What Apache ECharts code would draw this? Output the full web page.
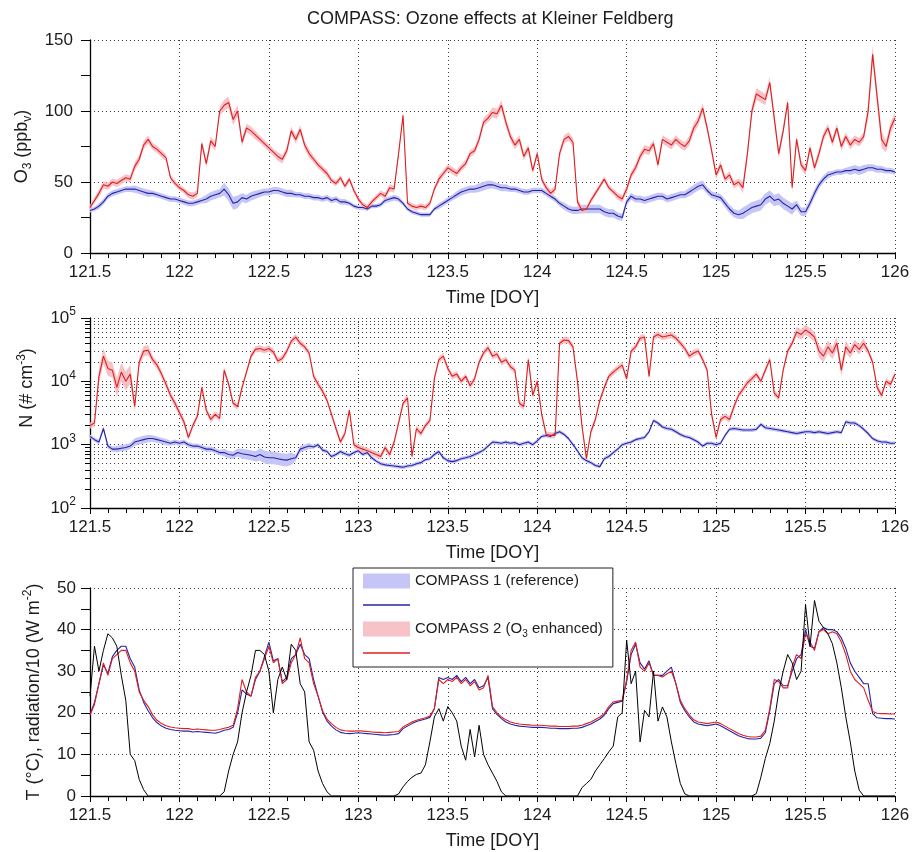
<!DOCTYPE html>
<html>
<head>
<meta charset="utf-8">
<title>COMPASS: Ozone effects at Kleiner Feldberg</title>
<script src="https://cdn.jsdelivr.net/npm/echarts@6/dist/echarts.min.js"></script>
<style>
  html, body { margin: 0; padding: 0; background: #ffffff; }
  #chart { width: 912px; height: 852px; }
</style>
</head>
<body>
<div id="chart"></div>
<script>
// Sampling of every series: one value each 0.025 day, from DOY 121.5 to 126.0
const doyStart = 121.5;
const doyStep = 0.025;

// Ozone mixing ratio (ppbv)
const o3Ref = [
  30, 31, 33, 36, 40, 42, 43, 44, 45, 45,
  45, 44, 43, 42, 42, 41, 40, 39, 38, 38,
  37, 36, 35, 35, 36, 37, 38, 40, 41, 42,
  45, 41, 35, 36, 39, 38, 40, 41, 42, 43,
  43, 44, 44, 43, 42, 42, 41, 41, 40, 40,
  39, 39, 38, 39, 37, 38, 36, 36, 35, 33,
  32, 32, 31, 33, 33, 34, 37, 38, 39, 38,
  35, 31, 29, 28, 27, 27, 27, 31, 33, 35,
  37, 39, 41, 43, 44, 45, 45, 46, 47, 48,
  48, 47, 46, 46, 45, 45, 44, 43, 43, 44,
  44, 44, 42, 40, 38, 35, 33, 31, 30, 30,
  31, 31, 31, 31, 31, 29, 28, 28, 26, 25,
  36, 40, 38, 38, 37, 38, 39, 40, 40, 38,
  39, 40, 41, 41, 43, 45, 47, 48, 44, 41,
  40, 39, 35, 31, 28, 27, 28, 30, 32, 33,
  34, 38, 40, 37, 38, 35, 33, 31, 34, 29,
  29, 35, 42, 48, 52, 55, 56, 57, 57, 58,
  58, 59, 58, 59, 60, 60, 59, 59, 58, 58,
  57
];
const o3Enh = [
  32, 37, 42, 48, 47, 50, 49, 51, 53, 52,
  61, 66, 76, 80, 75, 73, 70, 67, 53, 49,
  46, 44, 41, 40, 42, 77, 63, 79, 75, 100,
  104, 106, 94, 100, 78, 88, 86, 83, 80, 77,
  74, 71, 68, 66, 72, 86, 80, 87, 76, 70,
  66, 62, 59, 56, 51, 49, 53, 47, 52, 44,
  38, 34, 32, 36, 39, 42, 40, 46, 45, 70,
  97, 35, 33, 32, 33, 32, 35, 45, 52, 56,
  60, 58, 56, 60, 63, 70, 72, 80, 92, 95,
  99, 98, 104, 92, 82, 76, 80, 68, 74, 58,
  70, 52, 46, 42, 45, 70, 80, 82, 78, 36,
  30, 31, 37, 42, 47, 52, 46, 43, 40, 38,
  45, 55, 60, 68, 73, 72, 77, 62, 80, 78,
  76, 80, 77, 75, 79, 88, 93, 102, 88, 72,
  55, 62, 52, 55, 48, 50, 46, 70, 100, 112,
  110, 108, 120, 95, 70, 86, 106, 46, 80, 62,
  58, 74, 60, 70, 82, 88, 78, 88, 75, 82,
  76, 80, 78, 82, 100, 140, 110, 80, 75, 88,
  95
];

// Particle number concentration (# cm-3)
const nRef = [
  1350, 1200, 1100, 1800, 950, 850, 850, 880, 900, 950,
  1100, 1150, 1200, 1250, 1250, 1200, 1150, 1100, 1050, 1100,
  1050, 1100, 1000, 950, 950, 900, 850, 850, 800, 750,
  750, 700, 680, 750, 720, 700, 680, 650, 700, 640,
  620, 620, 600, 580, 570, 600, 620, 850, 900, 950,
  920, 1000, 820, 780, 650, 700, 780, 720, 680, 750,
  800, 700, 750, 620, 550, 500, 480, 470, 460, 450,
  440, 460, 470, 500, 520, 580, 600, 700, 780, 620,
  560, 540, 560, 600, 620, 650, 700, 750, 820, 950,
  1100, 1080, 1050, 1100, 1050, 1080, 1000, 1050, 1100, 1000,
  1150, 1350, 1400, 1350, 1500, 1600, 1450, 1250, 1000, 800,
  620, 560, 520, 470, 450, 600, 650, 750, 850, 1000,
  1050, 1100, 1200, 1250, 1300, 1600, 2400, 2200, 1900, 1800,
  1750, 1600, 1450, 1350, 1300, 1200, 1100, 950, 1050, 1050,
  1000, 1050, 1400, 1750, 1800, 1750, 1700, 1700, 1700, 1750,
  2100, 1850, 1800, 1750, 1700, 1650, 1600, 1550, 1500, 1550,
  1600, 1600, 1550, 1600, 1550, 1500, 1550, 1600, 1550, 2300,
  2200, 2200, 2000, 1750, 1500, 1250, 1150, 1100, 1100, 1050,
  1050
];
const nEnh = [
  2000, 2200, 12000, 25000, 16000, 15000, 8000, 14000, 10000, 13000,
  4000, 20000, 30000, 31000, 22000, 18000, 13000, 9000, 6000, 4500,
  3200, 2300, 1300, 2000, 2800, 8000, 3500, 2500, 3000, 2600,
  15000, 9000, 4500, 4000, 8000, 14000, 25000, 32000, 33000, 31000,
  33000, 29000, 21000, 23000, 30000, 43000, 50000, 40000, 35000, 28000,
  12000, 9000, 7000, 5000, 3000, 1800, 1100, 1500, 3500, 1000,
  900, 850, 800, 750, 700, 650, 900, 700, 1100, 2200,
  4500, 5500, 650, 1800, 1500, 2000, 2400, 11000, 22000, 25000,
  16000, 12000, 13000, 10000, 12000, 8500, 11000, 20000, 28000, 34000,
  25000, 27000, 20000, 22000, 17000, 15000, 4500, 4000, 22000, 6000,
  10000, 3000, 1450, 1400, 1400, 40000, 45000, 44000, 35000, 10000,
  2000, 600, 1600, 2500, 5000, 8000, 12000, 14000, 16000, 18000,
  11000, 30000, 35000, 48000, 50000, 12000, 50000, 55000, 50000, 52000,
  54000, 48000, 40000, 33000, 25000, 28000, 30000, 22000, 15000, 3000,
  1300, 2500, 2800, 2500, 4000, 6000, 7500, 9500, 11000, 13000,
  10000, 15000, 22000, 6500, 5500, 15000, 30000, 40000, 60000, 55000,
  65000, 58000, 50000, 30000, 25000, 35000, 28000, 40000, 15000, 35000,
  28000, 38000, 32000, 40000, 30000, 20000, 8000, 6000, 10000, 9000,
  13000
];

// Air temperature (deg C)
const tRef = [
  19.6, 22.5, 27, 31.5, 29.5, 33.5, 35, 36, 36, 33,
  31, 25.5, 22.5, 20.5, 18.8, 17.6, 16.8, 16.3, 16.0, 15.8,
  15.7, 15.6, 15.6, 15.4, 15.5, 15.4, 15.3, 15.2, 15.1, 15.4,
  15.8, 16.0, 16.5, 20, 25.5, 24.5, 24, 28, 30, 33.5,
  37, 32.5, 33, 27.5, 28.5, 33, 34, 36.5, 34, 33,
  28, 24, 20.2, 18, 16.8, 15.9, 15.3, 15.1, 15.0, 15.1,
  15.2, 15.1, 15.0, 14.9, 14.8, 14.7, 14.6, 14.7, 14.8, 15.0,
  16.2, 16.8, 17.4, 17.9, 18.2, 18.5, 18.9, 21, 28.5, 28,
  28.5, 28, 29, 27.5, 28.5, 27, 28, 26, 26.5, 28.5,
  21, 19.6, 18.6, 17.8, 17.3, 17.0, 16.8, 16.7, 16.6, 16.5,
  16.5, 16.5, 16.4, 16.3, 16.3, 16.2, 16.2, 16.2, 16.3, 16.3,
  16.5, 16.9, 17.3, 17.9, 18.5, 19.4, 21, 22.2, 22.5, 22.8,
  27.5, 34, 36.5, 32, 30.5, 32.5, 29, 29, 29, 30,
  31, 27, 22.5, 20.5, 19, 17.8, 17.3, 17.1, 16.9, 17.1,
  17.3, 16.9, 16.3, 15.7, 15.1, 14.5, 14.1, 13.8, 13.7, 13.7,
  13.9, 15.2, 20.5, 27, 28, 26.5, 26.5, 30, 33, 34,
  40, 36, 35.5, 39.5, 40.5, 40, 40, 39.5, 38, 35.5,
  32, 30, 28.5, 27, 27, 19.8, 18.8, 18.7, 18.6, 18.6,
  18.5
];
const tEnh = [
  19.4, 22, 27, 32, 29, 33, 34, 35, 35, 32,
  30, 25, 23, 21.5, 19.5, 18.2, 17.4, 16.9, 16.6, 16.4,
  16.3, 16.2, 16.2, 16.0, 16.1, 16.0, 15.9, 15.8, 15.8, 16.0,
  16.3, 16.5, 17, 21, 28, 25, 24, 28.5, 30, 33,
  36, 32, 33, 27, 28, 32, 34, 38, 33, 32,
  27, 24, 20.5, 18.5, 17.4, 16.5, 15.9, 15.7, 15.6, 15.6,
  15.7, 15.6, 15.5, 15.4, 15.3, 15.3, 15.2, 15.3, 15.4, 15.5,
  16.6, 17.2, 17.8, 18.2, 18.5, 18.8, 19.2, 21, 28, 27,
  28, 27.5, 28.5, 27, 28, 26.5, 27.5, 25.5, 26, 29,
  21.5, 20, 19, 18.3, 17.8, 17.5, 17.3, 17.2, 17.1, 17.0,
  17.0, 17.0, 16.9, 16.8, 16.8, 16.7, 16.7, 16.7, 16.8, 16.8,
  17.0, 17.4, 17.8, 18.4, 19, 19.8, 21.5, 22.6, 22.8, 23,
  28, 35, 37, 31, 30, 32, 29, 29, 28.6, 29.4,
  30, 27, 23, 21, 19.5, 18.3, 17.8, 17.6, 17.4, 17.6,
  17.8, 17.4, 16.8, 16.2, 15.6, 15.0, 14.6, 14.3, 14.2, 14.2,
  14.4, 15.8, 21, 28, 27.5, 26, 26, 31, 34, 33,
  39, 37, 35, 39.5, 40, 39, 39.5, 39, 37, 34,
  30, 28, 27, 26, 23, 20.3, 19.9, 19.8, 19.8, 19.7,
  19.7
];

// Global radiation divided by 10 (W m-2)
const radiation = [
  24, 36, 30, 35, 39, 38, 36, 29, 23, 10,
  8.5, 4, 1.5, 0, 0, 0, 0, 0, 0, 0,
  0, 0, 0, 0, 0, 0, 0, 0, 0, 0,
  1, 6, 10, 13, 20, 25, 29, 35, 35, 34,
  30, 20, 28, 31, 28, 36.5, 35, 27, 25, 13,
  11, 6, 3, 1, 0, 0, 0, 0, 0, 0,
  0, 0, 0, 0, 0, 0, 0, 0, 0, 0.5,
  2.2, 3.5, 4.5, 5.2, 5.5, 7.5, 13, 19, 21, 18,
  21.5, 20, 18, 12, 8.6, 16, 9.4, 17, 10, 7.5,
  5.5, 3.5, 1, 0, 0, 0, 0, 0, 0, 0,
  0, 0, 0, 0, 0, 0, 0, 0, 0, 0,
  2, 3, 4, 6, 7.5, 9, 10.6, 12, 19, 20,
  37.5, 27, 30, 13, 20.6, 19, 30, 18, 21.4, 19,
  13, 7.8, 3, 0.5, 0, 0, 0, 0, 0, 0,
  0, 0, 0, 0, 0, 0, 0, 0, 0, 0.6,
  4.5, 9, 12.6, 18, 25, 30, 34, 32, 28, 30,
  46, 36, 47, 42, 40.5, 39, 36.6, 32, 26, 19,
  13, 6, 1.4, 0, 0, 0, 0, 0, 0, 0,
  0
];

// Half-width of the shaded ranges, one value per 0.1 day (121.5 ... 126.0)
const o3RefSpread = [
  1.5, 2, 2, 2.5, 2, 2, 2, 3, 4.5, 3,
  2.5, 2.5, 2, 2, 2, 1.5, 1.5, 2, 1.5, 1.5,
  2, 2.5, 3, 2.5, 2, 2, 2, 2.5, 3, 3,
  2.5, 2.5, 2.5, 2.5, 3, 2.5, 3, 4, 4, 4,
  3, 2.5, 2, 3, 2.5, 2
];
const o3EnhSpread = [
  2, 2.5, 2.5, 3, 2.5, 2, 2.5, 3, 4, 3,
  2.5, 3, 3, 2.5, 2, 2, 2, 2.5, 2, 2,
  2.5, 2.5, 3, 3.5, 3, 2.5, 2.5, 3, 2, 2,
  2.5, 3, 3, 3, 3.5, 3, 2.5, 4, 4, 3.5,
  3, 3, 3, 3, 6, 4
];
// in decades (log10 units)
const nRefSpread = [
  0.03, 0.04, 0.05, 0.06, 0.05, 0.04, 0.04, 0.04, 0.06, 0.08,
  0.1, 0.1, 0.05, 0.03, 0.03, 0.03, 0.03, 0.03, 0.03, 0.03,
  0.03, 0.03, 0.03, 0.03, 0.03, 0.03, 0.03, 0.03, 0.03, 0.03,
  0.03, 0.03, 0.03, 0.03, 0.03, 0.03, 0.03, 0.03, 0.03, 0.03,
  0.03, 0.03, 0.03, 0.03, 0.03, 0.03
];
const nEnhSpread = [
  0.05, 0.12, 0.15, 0.08, 0.06, 0.06, 0.05, 0.05, 0.05, 0.05,
  0.05, 0.05, 0.05, 0.05, 0.05, 0.05, 0.05, 0.05, 0.05, 0.05,
  0.05, 0.05, 0.05, 0.05, 0.05, 0.05, 0.05, 0.05, 0.05, 0.05,
  0.05, 0.05, 0.05, 0.05, 0.05, 0.05, 0.05, 0.05, 0.05, 0.05,
  0.08, 0.1, 0.1, 0.08, 0.05, 0.05
];

// Tick values of the logarithmic number-concentration axis
const nMajorTicks = [100, 1000, 10000, 100000];
const nMinorTicks = [
  100, 200, 300, 400, 500, 600, 700, 800, 900,
  1000, 2000, 3000, 4000, 5000, 6000, 7000, 8000, 9000,
  10000, 20000, 30000, 40000, 50000, 60000, 70000, 80000, 90000,
  100000
];

const doy = o3Ref.map((_, i) => +(doyStart + i * doyStep).toFixed(3));
const spreadAt = (arr, i) => arr[Math.round(i * doyStep / 0.1)];

const o3RefLo = o3Ref.map((v, i) => v - spreadAt(o3RefSpread, i));
const o3RefHi = o3Ref.map((v, i) => v + spreadAt(o3RefSpread, i));
const o3EnhLo = o3Enh.map((v, i) => v - spreadAt(o3EnhSpread, i));
const o3EnhHi = o3Enh.map((v, i) => v + spreadAt(o3EnhSpread, i));
const nRefLo = nRef.map((v, i) => v / Math.pow(10, spreadAt(nRefSpread, i)));
const nRefHi = nRef.map((v, i) => v * Math.pow(10, spreadAt(nRefSpread, i)));
const nEnhLo = nEnh.map((v, i) => v / Math.pow(10, spreadAt(nEnhSpread, i)));
const nEnhHi = nEnh.map((v, i) => v * Math.pow(10, spreadAt(nEnhSpread, i)));

const FONT = '"Liberation Sans", Arial, Helvetica, sans-serif';
const INK = '#1c1c1c';
const BLUE = '#2424a6';
const RED = '#de1f1f';
const BLUE_BAND = '#c6c6f6';
const RED_BAND = 'rgba(246, 184, 190, 0.85)';

const REF_BAND = 'COMPASS 1 (reference)';
const ENH_BAND = 'COMPASS 2 (O3 enhanced)';
const REF_LINE = 'COMPASS 1';
const ENH_LINE = 'COMPASS 2';

// thin horizontal bar used as the legend key of a line
const LINE_KEY = 'path://M0,0 L94,0 L94,3 L0,3 Z';

const pairs = (vals) => doy.map((t, i) => [t, vals[i]]);

// Shaded range drawn as one closed polygon through the axis scales
function band(name, xi, yi, lo, hi, color) {
  return {
    type: 'custom', name, xAxisIndex: xi, yAxisIndex: yi, z: 1, silent: true,
    itemStyle: { color },
    data: doy.map((t, i) => [t, lo[i], hi[i]]),
    encode: { x: 0, y: [1, 2] },
    renderItem(params, api) {
      if (params.dataIndex !== 0) return null;
      const pts = [];
      for (let i = 0; i < doy.length; i++) pts.push(api.coord([doy[i], hi[i]]));
      for (let i = doy.length - 1; i >= 0; i--) pts.push(api.coord([doy[i], lo[i]]));
      return { type: 'polygon', shape: { points: pts }, style: { fill: color } };
    }
  };
}

function line(name, xi, yi, vals, color, z, width) {
  return {
    type: 'line', name, xAxisIndex: xi, yAxisIndex: yi, z,
    data: pairs(vals), symbol: 'none', showSymbol: false,
    color, lineStyle: { color, width: width || 1.1 },
    emphasis: { disabled: true }, silent: true
  };
}

const tickLine = { lineStyle: { color: '#000', width: 1 } };
const dotted = { show: true, lineStyle: { type: [1, 3], color: '#3a3a3a', width: 1 } };

function timeAxis(gi) {
  return {
    type: 'value', gridIndex: gi, min: 121.5, max: 126, interval: 0.5,
    name: 'Time [DOY]', nameLocation: 'middle', nameGap: 36,
    nameTextStyle: { fontSize: 18, color: INK, fontFamily: FONT },
    axisLine: { show: true, onZero: false, lineStyle: { color: '#000', width: 1.3 } },
    axisTick: Object.assign({ show: true, inside: false, length: 6 }, tickLine),
    minorTick: Object.assign({ show: true, splitNumber: 5, length: 5 }, tickLine),
    axisLabel: { fontSize: 17, color: INK, fontFamily: FONT, margin: 11 },
    splitLine: dotted,
    minorSplitLine: { show: false }
  };
}

const option = {
  animation: false,
  backgroundColor: '#ffffff',
  title: {
    text: 'COMPASS: Ozone effects at Kleiner Feldberg',
    left: 302, top: 5,
    textStyle: { fontSize: 18, fontWeight: 'normal', color: INK, fontFamily: FONT }
  },
  grid: [
    { left: 90, top: 40, width: 805, height: 213, containLabel: false, outerBoundsMode: 'none' },
    { left: 90, top: 318, width: 805, height: 190, containLabel: false, outerBoundsMode: 'none' },
    { left: 90, top: 588, width: 805, height: 208, containLabel: false, outerBoundsMode: 'none' }
  ],
  xAxis: [timeAxis(0), timeAxis(1), timeAxis(2)],
  yAxis: [
    {
      type: 'value', gridIndex: 0, min: 0, max: 150, interval: 50,
      name: 'O{sub|3} (ppb{sub|v})', nameLocation: 'middle', nameRotate: 90, nameGap: 50,
      nameTextStyle: {
        fontSize: 18, color: INK, fontFamily: FONT, lineHeight: 24,
        rich: { sub: { fontSize: 12, lineHeight: 12, verticalAlign: 'bottom', fontFamily: FONT, color: INK } }
      },
      axisLine: { show: true, lineStyle: { color: '#000', width: 1.3 } },
      axisTick: Object.assign({ show: true, inside: false, length: 9 }, tickLine),
      minorTick: Object.assign({ show: true, splitNumber: 2, length: 9 }, tickLine),
      axisLabel: { fontSize: 17, color: INK, fontFamily: FONT, margin: 17 },
      splitLine: dotted
    },
    {
      // fine ticks and grid of the logarithmic axis
      type: 'log', logBase: 10, gridIndex: 1, min: 100, max: 100000,
      axisLine: { show: true, lineStyle: { color: '#000', width: 1.3 } },
      axisTick: Object.assign({ show: true, inside: false, length: 5, customValues: nMinorTicks }, tickLine),
      axisLabel: { show: false },
      splitLine: dotted
    },
    {
      // decade ticks, labels and title of the logarithmic axis
      type: 'log', logBase: 10, gridIndex: 1, min: 100, max: 100000, position: 'left',
      name: 'N (# cm{sup|-3})', nameLocation: 'middle', nameRotate: 90, nameGap: 44,
      nameTextStyle: {
        fontSize: 18, color: INK, fontFamily: FONT, lineHeight: 24, padding: [0, 0, 0, 50],
        rich: { sup: { fontSize: 12, lineHeight: 12, verticalAlign: 'top', fontFamily: FONT, color: INK } }
      },
      axisLine: { show: false },
      axisTick: Object.assign({ show: true, inside: false, length: 9, customValues: nMajorTicks }, tickLine),
      axisLabel: {
        fontSize: 17, color: INK, fontFamily: FONT, margin: 14, lineHeight: 24,
        customValues: nMajorTicks,
        formatter: (v) => '10{sup|' + Math.round(Math.log10(v)) + '}',
        rich: { sup: { fontSize: 12, lineHeight: 12, verticalAlign: 'top', fontFamily: FONT, color: INK } }
      },
      splitLine: { show: false }
    },
    {
      type: 'value', gridIndex: 2, min: 0, max: 50, interval: 10,
      name: 'T (\u00b0C), radiation/10 (W m{sup|-2})', nameLocation: 'middle', nameRotate: 90, nameGap: 44,
      nameTextStyle: {
        fontSize: 18, color: INK, fontFamily: FONT, lineHeight: 24,
        rich: { sup: { fontSize: 12, lineHeight: 12, verticalAlign: 'top', fontFamily: FONT, color: INK } }
      },
      axisLine: { show: true, lineStyle: { color: '#000', width: 1.3 } },
      axisTick: Object.assign({ show: true, inside: false, length: 9 }, tickLine),
      minorTick: Object.assign({ show: true, splitNumber: 2, length: 9 }, tickLine),
      axisLabel: { fontSize: 17, color: INK, fontFamily: FONT, margin: 14 },
      splitLine: dotted
    }
  ],
  legend: {
    orient: 'vertical', left: 353, top: 568,
    itemWidth: 47, itemHeight: 15, itemGap: 4,
    padding: [3, 10, 4, 10],
    symbolKeepAspect: true,
    backgroundColor: '#ffffff', borderColor: '#222', borderWidth: 1, borderRadius: 0,
    selectedMode: false,
    textStyle: {
      fontSize: 15, color: INK, fontFamily: FONT, lineHeight: 20,
      rich: { sub: { fontSize: 10, lineHeight: 10, verticalAlign: 'bottom', fontFamily: FONT, color: INK } }
    },
    formatter: (name) => {
      if (name === REF_BAND) return name;
      if (name === ENH_BAND) return 'COMPASS 2 (O{sub|3} enhanced)';
      return ' ';
    },
    data: [
      { name: REF_BAND, icon: 'rect', itemStyle: { color: BLUE_BAND } },
      { name: REF_LINE, icon: LINE_KEY, itemStyle: { color: BLUE } },
      { name: ENH_BAND, icon: 'rect', itemStyle: { color: '#f7c3c8' } },
      { name: ENH_LINE, icon: LINE_KEY, itemStyle: { color: RED } }
    ]
  },
  series: [
    band(REF_BAND, 0, 0, o3RefLo, o3RefHi, BLUE_BAND),
    band(ENH_BAND, 0, 0, o3EnhLo, o3EnhHi, RED_BAND),
    line(REF_LINE, 0, 0, o3Ref, BLUE, 3),
    line(ENH_LINE, 0, 0, o3Enh, RED, 4),

    band(REF_BAND, 1, 1, nRefLo, nRefHi, BLUE_BAND),
    band(ENH_BAND, 1, 1, nEnhLo, nEnhHi, RED_BAND),
    line(REF_LINE, 1, 1, nRef, BLUE, 3),
    line(ENH_LINE, 1, 1, nEnh, RED, 4),

    line(REF_LINE, 2, 3, tRef, BLUE, 3),
    line(ENH_LINE, 2, 3, tEnh, RED, 4),
    line('Radiation / 10', 2, 3, radiation, '#000000', 5, 1)
  ]
};

const chart = echarts.init(document.getElementById('chart'), null, { renderer: 'canvas' });
chart.setOption(option);
</script>
</body>
</html>
